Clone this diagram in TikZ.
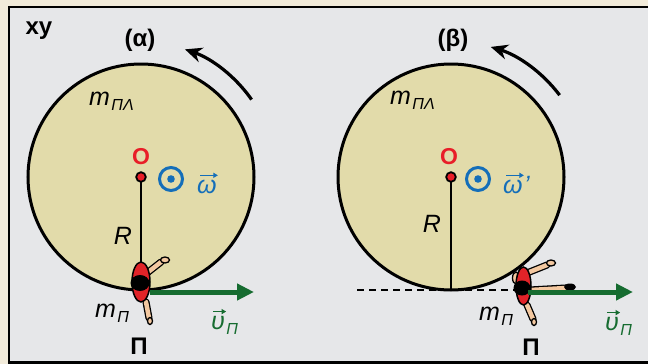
\documentclass[tikz,border=0pt]{standalone}
\usepackage{fontspec}
\setmainfont{Liberation Sans}
\usetikzlibrary{arrows.meta}
\definecolor{bgbeige}{RGB}{242,235,218}
\definecolor{panelgray}{RGB}{230,231,233}
\definecolor{diskfill}{RGB}{226,219,170}
\definecolor{vgreen}{RGB}{22,108,48}
\definecolor{ored}{RGB}{232,30,40}
\definecolor{wblue}{RGB}{20,110,185}
\definecolor{skin}{RGB}{243,200,160}
\definecolor{shirt}{RGB}{225,35,40}
\begin{document}
\begin{tikzpicture}[x=1pt,y=-1pt,
  boldtxt/.style={inner sep=0pt, font=\fontsize{24}{28}\selectfont\bfseries},
  ittxt/.style={inner sep=0pt, font=\fontsize{25}{28}\selectfont\itshape},
  subtxt/.style={inner sep=0pt, font=\fontsize{16}{18}\selectfont\itshape},
  disk/.style={draw=black, line width=3pt, fill=diskfill},
  radius line/.style={line width=2.2pt},
  centre dot/.style={draw=black, line width=1.8pt, fill=ored},
  spin/.style={line width=3.2pt, -{Stealth[length=17pt,width=15pt]}},
  velocity/.style={vgreen, line width=5pt, -{Triangle[length=17pt,width=16pt]}},
  vecbar/.style={line width=1.4pt, -{Triangle[length=4.5pt,width=5pt]}},
  limb/.style={draw=black, line width=1.3pt, double=skin, double distance=4.5pt, line cap=round},
  skinpart/.style={draw=black, line width=1.3pt, fill=skin},
  torso/.style={draw=black, line width=1.5pt, fill=shirt},
  spinmark/.style={wblue, line width=3pt},
]
\useasboundingbox (0,0) rectangle (648,364);
\clip (0,0) rectangle (648,364);

% page and panel
\fill[bgbeige] (0,0) rectangle (648,364);
\draw[fill=panelgray, line width=2.5pt] (9,7) rectangle (700,362.5);
\node[boldtxt] (xy) at (39,31) {xy};

% ---------- left disk (alpha) ----------
\coordinate (Ca) at (141,177);
\draw[disk] (Ca) circle[radius=113];
\coordinate (Ba) at (141,290);
\draw[radius line] (Ca) -- (Ba);
\draw[centre dot] (Ca) circle[radius=4.8];
\node[boldtxt] (la) at (140,40) {(α)};
\draw[spin] ([shift={(-35:135)}]Ca) arc[start angle=-35, end angle=-71, radius=135];
\node[boldtxt, ored, font=\fontsize{23}{26}\selectfont\bfseries] (Oa) at (141,157) {O};
\draw[spinmark] (171,179) circle[radius=11.5];
\fill[wblue] (171,179) circle[radius=3.8];
\node[ittxt, wblue, anchor=base west] (wa) at (197,193) {ω};
\draw[vecbar, wblue] ([xshift=3pt,yshift=4pt]wa.north west) -- ([xshift=1pt,yshift=4pt]wa.north east);
\node[ittxt, anchor=base west] (ma) at (89,105) {m};
\node[subtxt, anchor=base west] (mas) at ([xshift=1pt,yshift=-5pt]ma.base east) {ΠΛ};
\node[ittxt, anchor=base] (Ra) at (123,244) {R};

% runner on the rim
\draw[limb] (147,273) -- (161,262);
\draw[skinpart] (165,260) ellipse[x radius=4.5, y radius=3];
\draw[limb] (146,302) -- (149,318);
\draw[skinpart] (150,321) ellipse[x radius=2.5, y radius=3.5];
\draw[torso] (141,282) ellipse[x radius=9, y radius=20];
\fill[black] (140,283) ellipse[x radius=9.5, y radius=8];
\coordinate (Pa) at (150,292);
\coordinate (Va) at (254,292);
\draw[velocity] (Pa) -- (Va);
\node[ittxt, anchor=base west] (mpa) at (95,317) {m};
\node[subtxt, anchor=base west] (mpas) at ([xshift=1pt,yshift=-5pt]mpa.base east) {Π};
\node[boldtxt, anchor=base] (Pia) at (139,354) {Π};
\node[ittxt, vgreen, anchor=base west] (ua) at (211,329) {υ};
\draw[vecbar, vgreen] ([xshift=2pt,yshift=4pt]ua.north west) -- ([xshift=1pt,yshift=4pt]ua.north east);
\node[subtxt, vgreen, anchor=base west] (uas) at ([xshift=1pt,yshift=-5pt]ua.base east) {Π};

% ---------- right disk (beta) ----------
\coordinate (Cb) at (451,177);
\draw[dashed, dash pattern=on 7pt off 5pt, line width=2.5pt] (357,290) -- (521,290);
\draw[disk] (Cb) circle[radius=113];
\coordinate (Bb) at (451,290);
\draw[radius line] (Cb) -- (Bb);
\draw[centre dot] (Cb) circle[radius=4.8];
\node[boldtxt] (lb) at (453,40) {(β)};
\draw[spin] ([shift={(-37:136)}]Cb) arc[start angle=-37, end angle=-73, radius=136];
\node[boldtxt, ored, font=\fontsize{23}{26}\selectfont\bfseries] (Ob) at (449,157) {O};
\draw[spinmark] (478,179) circle[radius=11.5];
\fill[wblue] (478,179) circle[radius=3.8];
\node[ittxt, wblue, anchor=base west] (wb) at (503,193) {ω};
\node[ittxt, wblue, anchor=base west] (wbp) at ([xshift=1pt]wb.base east) {'};
\draw[vecbar, wblue] ([xshift=3pt,yshift=4pt]wb.north west) -- ([xshift=1pt,yshift=4pt]wb.north east);
\node[ittxt, anchor=base west] (mb) at (390,104) {m};
\node[subtxt, anchor=base west] (mbs) at ([xshift=1pt,yshift=-5pt]mb.base east) {ΠΛ};
\node[ittxt, anchor=base] (Rb) at (432,232) {R};

% runner beside the disk
\draw[skinpart] (516,278) ellipse[x radius=3.5, y radius=6];
\draw[limb] (527,273) -- (547,265);
\draw[skinpart] (551,263) ellipse[x radius=4.5, y radius=3];
\draw[limb] (530,290) -- (566,288);
\fill[black] (570,287) ellipse[x radius=6, y radius=3.5];
\draw[limb] (527,305) -- (533,319);
\draw[skinpart] (534,322) ellipse[x radius=2.5, y radius=3.5];
\draw[torso] (523.5,286) ellipse[x radius=7.5, y radius=19];
\fill[black] (522,288) ellipse[x radius=8.5, y radius=7.5];
\coordinate (Pb) at (528,292);
\coordinate (Vb) at (633,292);
\draw[velocity] (Pb) -- (Vb);
\node[ittxt, anchor=base west] (mpb) at (479,320) {m};
\node[subtxt, anchor=base west] (mpbs) at ([xshift=1pt,yshift=-5pt]mpb.base east) {Π};
\node[boldtxt, anchor=base] (Pib) at (531,355) {Π};
\node[ittxt, vgreen, anchor=base west] (ub) at (605,330) {υ};
\draw[vecbar, vgreen] ([xshift=2pt,yshift=4pt]ub.north west) -- ([xshift=1pt,yshift=4pt]ub.north east);
\node[subtxt, vgreen, anchor=base west] (ubs) at ([xshift=1pt,yshift=-5pt]ub.base east) {Π};
\end{tikzpicture}
\end{document}
